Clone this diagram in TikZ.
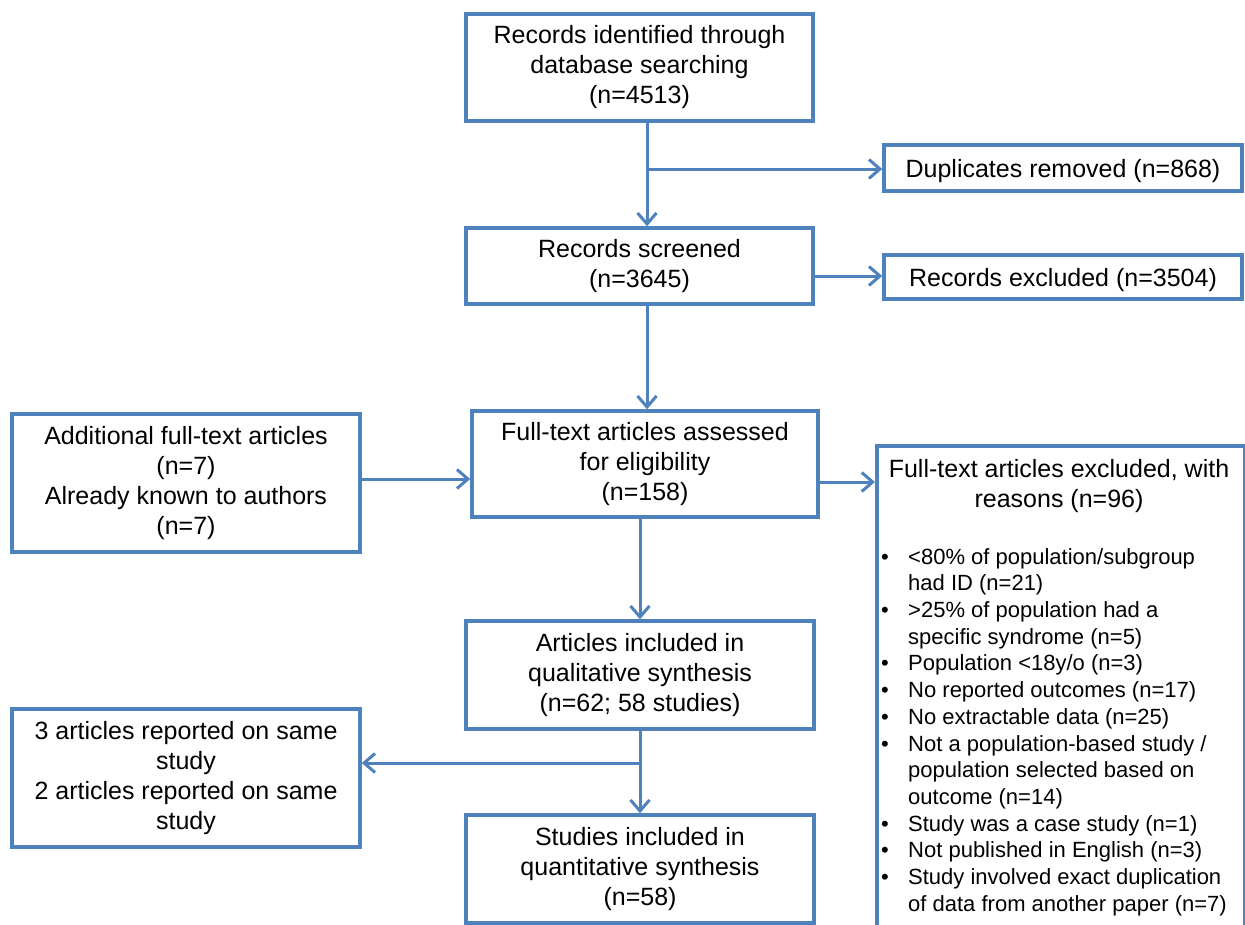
\documentclass[tikz,border=0pt]{standalone}
\usepackage{fontspec}
\setmainfont{Liberation Sans}
\usetikzlibrary{arrows.meta}
\definecolor{boxblue}{HTML}{4F81BD}
% bullet list helpers for the exclusion reasons
\newcommand\fxitem[1]{\makebox[27pt][l]{\textbullet}#1}
\newcommand\fxcont[1]{\hspace*{27pt}#1}
\begin{document}
\begin{tikzpicture}[x=1pt,y=-1pt,
  box/.style={draw=boxblue, line width=3.5pt, fill=white, align=center, inner sep=0pt,
    font=\fontsize{25}{30}\selectfont, execute at begin node={\rule{0pt}{24pt}}},
  flow/.style={draw=boxblue, line width=3pt,
    -{Straight Barb[length=11pt,width=19pt,line width=3pt]}},
  link/.style={draw=boxblue, line width=3pt}]
\useasboundingbox (0,0) rectangle (1245,924);
\clip (0,0) rectangle (1245,924);

% main column
\node[box, minimum width=347pt, minimum height=107pt] (rec) at (639.5,67.5)
  {Records identified through\\database searching\\(n=4513)};
\node[box, minimum width=347pt, minimum height=76pt] (scr) at (639.5,266)
  {Records screened\\(n=3645)};
\node[box, minimum width=346pt, minimum height=106pt] (full) at (645,464)
  {Full-text articles assessed\\for eligibility\\(n=158)};
\node[box, minimum width=348pt, minimum height=108pt] (art) at (640,675)
  {Articles included in\\qualitative synthesis\\(n=62; 58 studies)};
\node[box, minimum width=348pt, minimum height=108pt] (stud) at (640,869)
  {Studies included in\\quantitative synthesis\\(n=58)};

% side boxes
\node[box, minimum width=358pt, minimum height=46pt] (dup) at (1063,168)
  {Duplicates removed (n=868)};
\node[box, minimum width=358pt, minimum height=44pt] (rexc) at (1063,277)
  {Records excluded (n=3504)};
\node[box, minimum width=348pt, minimum height=138pt] (add) at (186,483)
  {Additional full-text articles\\(n=7)\\Already known to authors\\(n=7)};
\node[box, minimum width=348pt, minimum height=138pt] (three) at (186,778)
  {3 articles reported on same\\study\\2 articles reported on same\\study};
\node[box, minimum width=368pt, minimum height=520pt, anchor=north west] (fexc) at (875,444) {};
\node[align=center, inner sep=0pt, font=\fontsize{25}{30}\selectfont] (fexch) at (1059,486)
  {Full-text articles excluded, with\\reasons (n=96)};
\node[anchor=north west, align=left, inner sep=0pt, font=\fontsize{22}{26.7}\selectfont] (fexcl) at (881,548)
  {\fxitem{<80\% of population/subgroup}\\
   \fxcont{had ID (n=21)}\\
   \fxitem{>25\% of population had a}\\
   \fxcont{specific syndrome (n=5)}\\
   \fxitem{Population <18y/o (n=3)}\\
   \fxitem{No reported outcomes (n=17)}\\
   \fxitem{No extractable data (n=25)}\\
   \fxitem{Not a population-based study /}\\
   \fxcont{population selected based on}\\
   \fxcont{outcome (n=14)}\\
   \fxitem{Study was a case study (n=1)}\\
   \fxitem{Not published in English (n=3)}\\
   \fxitem{Study involved exact duplication}\\
   \fxcont{of data from another paper (n=7)}};

% connectors
\coordinate (s1) at (647,169);
\coordinate (r2) at (850,276);
\coordinate (a1) at (400,479);
\coordinate (f1) at (850,482);
\coordinate (s2) at (640,763);

\draw[link] (rec.south -| s1) -- (s1);
\draw[flow] (s1) -- (scr.north -| s1);
\draw[flow] (s1) -- (dup.west |- s1);
\draw[flow] (scr.south -| s1) -- (full.north -| s1);
\draw[flow] (scr.east |- r2) -- (rexc.west |- r2);
\draw[flow] (add.east |- a1) -- (full.west |- a1);
\draw[flow] (full.east |- f1) -- (fexc.west |- f1);
\draw[flow] (full.south -| art.north) -- (art.north);
\draw[link] (art.south) -- (s2);
\draw[flow] (s2) -- (stud.north);
\draw[flow] (s2) -- (three.east |- s2);
\end{tikzpicture}
\end{document}
